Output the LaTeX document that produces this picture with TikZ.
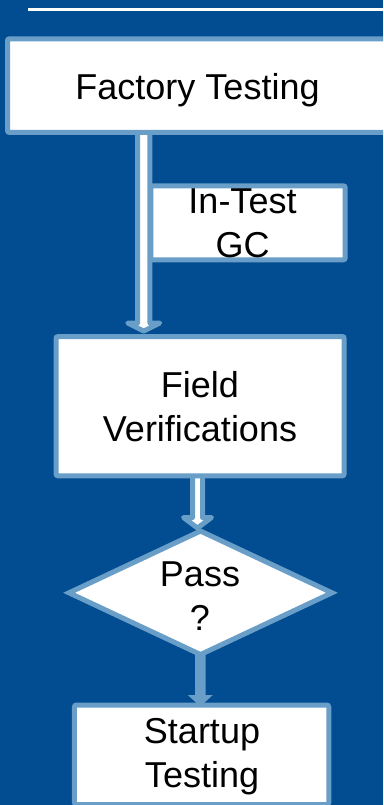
\documentclass[tikz,border=0pt]{standalone}
\usepackage{fontspec}
\setmainfont{Liberation Sans}
\usetikzlibrary{calc,shapes.geometric}

\definecolor{bgblue}{RGB}{2,76,145}
\definecolor{edgeblue}{RGB}{104,158,200}

\pgfdeclarelayer{backdrop}
\pgfdeclarelayer{arrows}
\pgfsetlayers{backdrop,arrows,main}

\tikzset{
  flowbox/.style={rectangle, draw=edgeblue, fill=white, line width=5pt,
    rounded corners=2pt, inner sep=0pt, outer sep=0pt},
  decision/.style={shape=diamond, draw=edgeblue, fill=white, line width=5pt,
    inner sep=0pt, outer sep=0pt},
  caption/.style={inner sep=0pt, outer sep=0pt, align=center, text=black,
    font=\fontsize{36}{44}\selectfont},
  hollowarrow/.style={draw=edgeblue, fill=white, line width=5pt, line join=round},
  solidarrow/.style={fill=edgeblue},
}

% downward block arrow: style, start, tip, shaft half-width, head half-width, head length
\newcommand\downblockarrow[6]{%
  \path[#1] let \p1=(#2), \p2=(#3) in
    (\x1-#4,\y1) -- (\x2-#4,\y2+#6) -- (\x2-#5,\y2+#6) -- (\x2,\y2)
    -- (\x2+#5,\y2+#6) -- (\x2+#4,\y2+#6) -- (\x1+#4,\y1);}

\begin{document}
\begin{tikzpicture}[x=1pt,y=-1pt]
\useasboundingbox (0,0) rectangle (383,805);
\clip (0,0) rectangle (383,805);

\begin{pgfonlayer}{backdrop}
  \fill[bgblue] (0,0) rectangle (383,805);
  \draw[white, line width=2.7pt] (28.3,9.7) -- (390,9.7);
\end{pgfonlayer}

% process boxes and decision
\node[flowbox, minimum width=380.5pt, minimum height=93.7pt] (factory) at (197.75,85.65) {};
\node[flowbox, minimum width=194.4pt, minimum height=74pt] (ingc) at (248,222.8) {};
\node[flowbox, minimum width=288.2pt, minimum height=139.3pt] (field) at (200.1,406.2) {};
\node[decision, minimum width=263pt, minimum height=123.5pt] (pass) at (200.5,592.8) {};
\node[flowbox, minimum width=254.3pt, minimum height=99.5pt] (startup) at (201.6,754.75) {};

% labels
\node[caption] (factoryTxt) at (197.5,90.1) {Factory Testing};
\node[caption] (ingcTxt) at (242.5,223.5) {In-Test\\GC};
\node[caption] (fieldTxt) at (200,406.5) {Field\\Verifications};
\node[caption] (passTxt) at (200,596.4) {Pass\\?};
\node[caption] (startupTxt) at (202,756.2) {Startup\\Testing};

% connectors
\coordinate (a1top) at ($(factory.south)+(-54,0)$);
\coordinate (a1tip) at ($(a1top |- field.north)+(0,-5.5)$);
\coordinate (a2top) at ($(field.south)+(-2.6,0)$);
\coordinate (a2tip) at ($(a2top |- pass.north)+(0,-3)$);
\coordinate (a3top) at ($(pass.south)+(-0.2,0)$);
\coordinate (a3tip) at ($(a3top |- startup.north)+(0,1.5)$);

\begin{pgfonlayer}{arrows}
  \downblockarrow{hollowarrow}{a1top}{a1tip}{6.2pt}{16pt}{8pt}
  \downblockarrow{hollowarrow}{a2top}{a2tip}{5pt}{14pt}{10.5pt}
  \downblockarrow{solidarrow}{a3top}{a3tip}{5.3pt}{12.5pt}{11.5pt}
\end{pgfonlayer}
\end{tikzpicture}
\end{document}
